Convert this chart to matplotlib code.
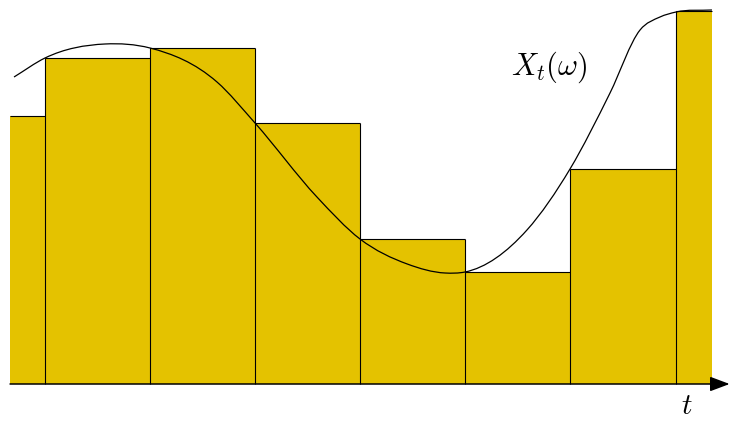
import numpy as np
import matplotlib.pyplot as plt
from matplotlib.path import Path
from matplotlib.patches import PathPatch

plt.rcParams['mathtext.fontset'] = 'cm'

# step approximation: bar edges (time) and left-point heights
bar_edges = [-0.333, 0.0, 1.0, 2.0, 3.0, 4.0, 5.0, 6.01, 6.352]
bar_heights = [2.68, 3.26, 3.36, 2.61, 1.45, 1.12, 2.15, 3.73]

# sample path X_t(omega)
curve_t = [-0.295, 0.0, 0.571, 1.0, 1.638, 2.0, 2.59, 3.0, 3.45, 3.81, 4.0,
           4.59, 5.0, 5.381, 5.667, 5.857, 6.01, 6.352]
curve_x = [3.07, 3.26, 3.40, 3.36, 3.02, 2.61, 1.87, 1.45, 1.20, 1.11, 1.12,
           1.54, 2.15, 2.91, 3.54, 3.67, 3.72, 3.74]

bar_color = '#e4c200'

fig = plt.figure(figsize=(7.3, 4.21), dpi=100)
ax = fig.add_axes([0, 0, 1, 1])
ax.set_xlim(-0.4286, 6.5238)
ax.set_ylim(-0.37, 3.84)
ax.axis('off')

# filled bars, outlines drawn separately (no outer left/right edge)
lefts = np.array(bar_edges[:-1])
widths = np.diff(bar_edges)
ax.bar(lefts, bar_heights, width=widths, align='edge', color=bar_color,
       edgecolor='none', zorder=1)
ax.hlines(bar_heights, lefts, lefts + widths, color='black', lw=0.8, zorder=2)
inner = bar_edges[1:-1]
tops = [max(a, b) for a, b in zip(bar_heights[:-1], bar_heights[1:])]
ax.vlines(inner, 0, tops, color='black', lw=0.8, zorder=2)

# smooth curve: cubic Hermite segments with finite-difference slopes
t = np.array(curve_t)
x = np.array(curve_x)
slope = np.gradient(x, t)
verts = [(t[0], x[0])]
codes = [Path.MOVETO]
for i in range(len(t) - 1):
    dt = t[i + 1] - t[i]
    verts += [(t[i] + dt / 3, x[i] + slope[i] * dt / 3),
              (t[i + 1] - dt / 3, x[i + 1] - slope[i + 1] * dt / 3),
              (t[i + 1], x[i + 1])]
    codes += [Path.CURVE4] * 3
ax.add_patch(PathPatch(Path(verts, codes), facecolor='none',
                       edgecolor='black', lw=0.9, zorder=3))

# time axis with arrow
ax.annotate('', xy=(6.52, 0), xytext=(bar_edges[0], 0),
            arrowprops=dict(arrowstyle='-|>,head_length=1.2,head_width=0.45',
                            mutation_scale=10, color='black', lw=1.1,
                            shrinkA=0, shrinkB=0), zorder=4)

ax.text(4.8, 3.17, r'$X_t(\omega)$', fontsize=22, ha='center', va='center')
ax.text(6.11, -0.22, r'$t$', fontsize=21, ha='center', va='center')

fig.savefig('out.png', dpi=100)
